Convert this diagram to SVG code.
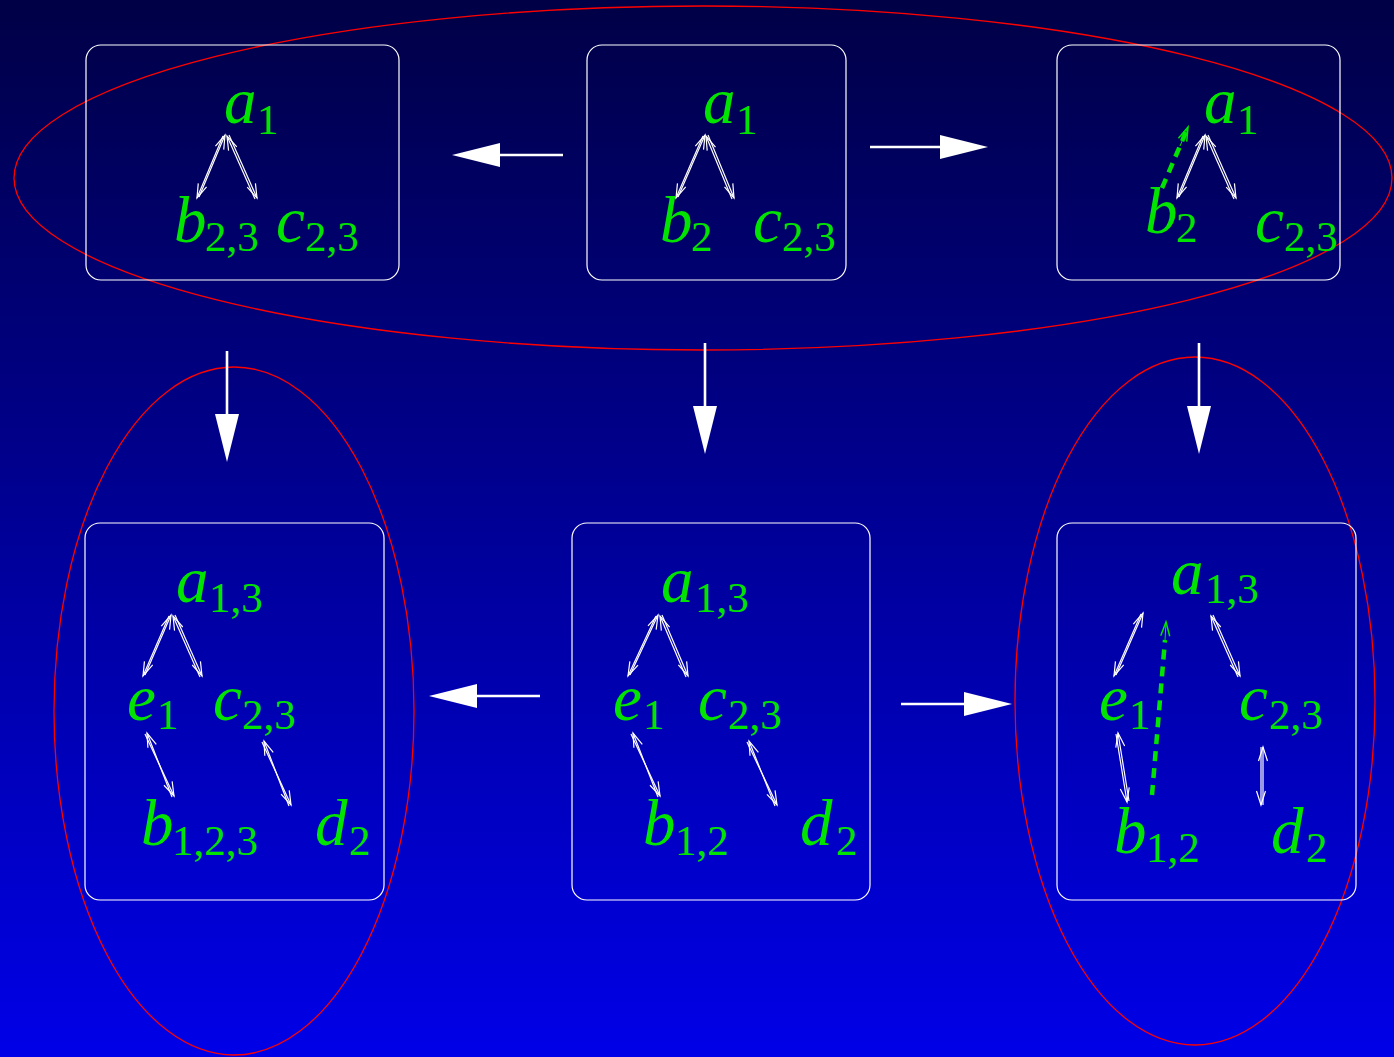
<svg xmlns="http://www.w3.org/2000/svg" width="1394" height="1057" viewBox="0 0 1394 1057">
<style>
.box{fill:none;stroke:#ffffff;stroke-width:1.2}
.ell{fill:none;stroke:#ff0000;stroke-width:1.3}
.lab{font-family:"Liberation Serif",serif;font-size:65px;fill:#00e400;font-style:italic}
.sub{font-size:43px;font-style:normal}
.sm{stroke:#ffffff;stroke-width:1.2;fill:none;marker-end:url(#open)}
.gd{stroke:#00e400;stroke-width:4.5;fill:none;stroke-dasharray:10 7}
.big{stroke:#ffffff;stroke-width:2.6;fill:none}
.head{fill:#ffffff}
</style>
<defs>
<linearGradient id="bg" x1="0" y1="0" x2="0" y2="1">
<stop offset="0" stop-color="#000046"/>
<stop offset="1" stop-color="#0000e8"/>
</linearGradient>
<marker id="open" markerUnits="userSpaceOnUse" viewBox="-15 -6 17 12" refX="0" refY="0" markerWidth="17" markerHeight="12" orient="auto">
<path d="M-14,-4.5 L0,0 L-14,4.5" fill="none" stroke="#ffffff" stroke-width="1.2"/>
</marker>
<marker id="openg" markerUnits="userSpaceOnUse" viewBox="-15 -6 17 12" refX="0" refY="0" markerWidth="17" markerHeight="12" orient="auto">
<path d="M-14,-4.5 L0,0 L-14,4.5" fill="none" stroke="#00e400" stroke-width="1.5"/>
</marker>
</defs>
<rect x="0" y="0" width="1394" height="1057" fill="url(#bg)"/>

<g id="ellipses">
<ellipse class="ell" cx="703" cy="178" rx="689" ry="172"/>
<ellipse class="ell" cx="234" cy="711" rx="180" ry="344"/>
<ellipse class="ell" cx="1195" cy="701" rx="180" ry="344"/>
</g>

<g id="box1">
<rect class="box" x="86" y="45" width="313" height="235" rx="15"/>
<text class="lab"><tspan x="224" y="123">a</tspan><tspan class="sub" x="257" y="134">1</tspan></text>
<text class="lab"><tspan x="174" y="242">b</tspan><tspan class="sub" x="205" y="251">2,3</tspan></text>
<text class="lab"><tspan x="276" y="242">c</tspan><tspan class="sub" x="305" y="251">2,3</tspan></text>
<line class="sm" x1="223" y1="136" x2="197" y2="198"/>
<line class="sm" x1="199" y1="197" x2="225" y2="135"/>
<line class="sm" x1="229" y1="135" x2="257" y2="198"/>
<line class="sm" x1="255" y1="199" x2="227" y2="136"/>
</g>

<g id="box2">
<rect class="box" x="587" y="45" width="259" height="235" rx="15"/>
<text class="lab"><tspan x="703" y="123">a</tspan><tspan class="sub" x="736" y="134">1</tspan></text>
<text class="lab"><tspan x="660" y="242">b</tspan><tspan class="sub" x="691" y="251">2</tspan></text>
<text class="lab"><tspan x="753" y="242">c</tspan><tspan class="sub" x="782" y="251">2,3</tspan></text>
<line class="sm" x1="703" y1="136" x2="676" y2="198"/>
<line class="sm" x1="678" y1="197" x2="705" y2="135"/>
<line class="sm" x1="708" y1="135" x2="734" y2="198"/>
<line class="sm" x1="732" y1="199" x2="706" y2="136"/>
</g>

<g id="box3">
<rect class="box" x="1057" y="45" width="283" height="235" rx="15"/>
<text class="lab"><tspan x="1204" y="123">a</tspan><tspan class="sub" x="1237" y="134">1</tspan></text>
<text class="lab"><tspan x="1145" y="233">b</tspan><tspan class="sub" x="1176" y="242">2</tspan></text>
<text class="lab"><tspan x="1255" y="242">c</tspan><tspan class="sub" x="1284" y="251">2,3</tspan></text>
<line class="sm" x1="1203" y1="136" x2="1177" y2="198"/>
<line class="sm" x1="1179" y1="197" x2="1205" y2="135"/>
<line class="sm" x1="1208" y1="135" x2="1236" y2="198"/>
<line class="sm" x1="1234" y1="199" x2="1206" y2="136"/>
<line class="gd" x1="1162" y1="188" x2="1186" y2="132"/>
<line x1="1180" y1="146" x2="1188" y2="127" stroke="#00e400" stroke-width="1" marker-end="url(#openg)"/>
</g>

<g id="box4">
<rect class="box" x="85" y="523" width="299" height="377" rx="15"/>
<text class="lab"><tspan x="176" y="602">a</tspan><tspan class="sub" x="209" y="612">1,3</tspan></text>
<text class="lab"><tspan x="127" y="720">e</tspan><tspan class="sub" x="157" y="729">1</tspan></text>
<text class="lab"><tspan x="213" y="720">c</tspan><tspan class="sub" x="242" y="729">2,3</tspan></text>
<text class="lab"><tspan x="141" y="845">b</tspan><tspan class="sub" x="172" y="855">1,2,3</tspan></text>
<text class="lab"><tspan x="315" y="845">d</tspan><tspan class="sub" x="349" y="855">2</tspan></text>
<line class="sm" x1="169" y1="616" x2="143" y2="676"/>
<line class="sm" x1="145" y1="675" x2="171" y2="615"/>
<line class="sm" x1="175" y1="615" x2="202" y2="676"/>
<line class="sm" x1="200" y1="677" x2="173" y2="616"/>
<line class="sm" x1="145" y1="734" x2="174" y2="796"/>
<line class="sm" x1="172" y1="797" x2="147" y2="733"/>
<line class="sm" x1="262" y1="742" x2="291" y2="805"/>
<line class="sm" x1="289" y1="806" x2="264" y2="741"/>
</g>

<g id="box5">
<rect class="box" x="572" y="523" width="298" height="377" rx="15"/>
<text class="lab"><tspan x="661" y="602">a</tspan><tspan class="sub" x="695" y="612">1,3</tspan></text>
<text class="lab"><tspan x="613" y="720">e</tspan><tspan class="sub" x="643" y="729">1</tspan></text>
<text class="lab"><tspan x="698" y="720">c</tspan><tspan class="sub" x="728" y="729">2,3</tspan></text>
<text class="lab"><tspan x="643" y="845">b</tspan><tspan class="sub" x="675" y="855">1,2</tspan></text>
<text class="lab"><tspan x="800" y="845">d</tspan><tspan class="sub" x="836" y="855">2</tspan></text>
<line class="sm" x1="656" y1="616" x2="628" y2="676"/>
<line class="sm" x1="630" y1="675" x2="658" y2="615"/>
<line class="sm" x1="662" y1="615" x2="688" y2="676"/>
<line class="sm" x1="686" y1="677" x2="660" y2="616"/>
<line class="sm" x1="631" y1="734" x2="660" y2="796"/>
<line class="sm" x1="658" y1="797" x2="633" y2="733"/>
<line class="sm" x1="747" y1="742" x2="777" y2="805"/>
<line class="sm" x1="775" y1="806" x2="749" y2="741"/>
</g>

<g id="box6">
<rect class="box" x="1057" y="523" width="299" height="377" rx="15"/>
<text class="lab"><tspan x="1171" y="594">a</tspan><tspan class="sub" x="1205" y="603">1,3</tspan></text>
<text class="lab"><tspan x="1099" y="720">e</tspan><tspan class="sub" x="1129" y="729">1</tspan></text>
<text class="lab"><tspan x="1239" y="720">c</tspan><tspan class="sub" x="1269" y="729">2,3</tspan></text>
<text class="lab"><tspan x="1114" y="853">b</tspan><tspan class="sub" x="1146" y="862">1,2</tspan></text>
<text class="lab"><tspan x="1271" y="853">d</tspan><tspan class="sub" x="1306" y="862">2</tspan></text>
<line class="sm" x1="1141" y1="614" x2="1114" y2="676"/>
<line class="sm" x1="1116" y1="675" x2="1143" y2="613"/>
<line class="sm" x1="1213" y1="615" x2="1240" y2="676"/>
<line class="sm" x1="1238" y1="677" x2="1211" y2="616"/>
<line class="sm" x1="1116" y1="734" x2="1127" y2="802"/>
<line class="sm" x1="1129" y1="801" x2="1118" y2="733"/>
<line class="sm" x1="1261" y1="747" x2="1261" y2="805"/>
<line class="sm" x1="1263" y1="805" x2="1263" y2="747"/>
<line class="gd" x1="1152" y1="795" x2="1165" y2="640"/>
<line x1="1165" y1="640" x2="1166" y2="622" stroke="#00e400" stroke-width="1" marker-end="url(#openg)"/>
</g>

<g id="connectors">
<line class="big" x1="563" y1="155" x2="496" y2="155"/>
<polygon class="head" points="452,155 500,143 500,167"/>
<line class="big" x1="870" y1="147" x2="944" y2="147"/>
<polygon class="head" points="988,147 940,135 940,159"/>
<line class="big" x1="227" y1="351" x2="227" y2="418"/>
<polygon class="head" points="227,462 215,414 239,414"/>
<line class="big" x1="705" y1="343" x2="705" y2="410"/>
<polygon class="head" points="705,454 693,406 717,406"/>
<line class="big" x1="1199" y1="343" x2="1199" y2="410"/>
<polygon class="head" points="1199,454 1187,406 1211,406"/>
<line class="big" x1="540" y1="696" x2="473" y2="696"/>
<polygon class="head" points="429,696 477,684 477,708"/>
<line class="big" x1="901" y1="704" x2="968" y2="704"/>
<polygon class="head" points="1012,704 964,692 964,716"/>
</g>
</svg>
